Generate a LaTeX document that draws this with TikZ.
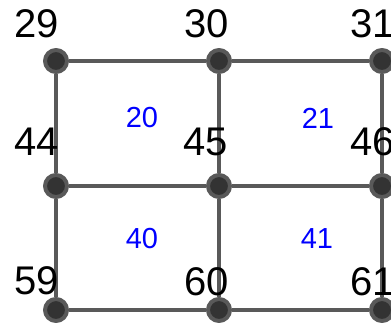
\documentclass[tikz,border=0pt]{standalone}
\usepackage{fontspec}
\setmainfont{Liberation Sans}
\usetikzlibrary{positioning}
\definecolor{gridLine}{HTML}{595959}
\definecolor{gridDot}{HTML}{333333}
\definecolor{gridBlue}{HTML}{0000FF}
\begin{document}
\begin{tikzpicture}[x=1pt,y=-1pt,line join=round]
\useasboundingbox (0,0) rectangle (391,322);
\clip (0,0) rectangle (391,322);
\path[fill=white] (0,0) rectangle (391,322);
\tikzset{vertex/.style={circle,draw=gridLine,fill=gridDot,line width=4pt,minimum size=22pt,inner sep=0pt},edge/.style={draw=gridLine,line width=4.5pt},vlabel/.style={font=\fontsize{40}{40}\selectfont,text=black,inner sep=0pt},cell/.style={font=\fontsize{29}{29}\selectfont,text=gridBlue,inner sep=0pt}}
% grid points
\foreach \n/\x/\y in {29/56/61,30/219/61,31/382/61,44/56/186,45/219/186,46/382/186,59/56/310,60/219/310,61/382/310}
  \node[vertex] (v\n) at (\x,\y) {};
\draw[edge] (v29) -- (v30) -- (v31); \draw[edge] (v44) -- (v45) -- (v46); \draw[edge] (v59) -- (v60) -- (v61);
\draw[edge] (v29) -- (v44) -- (v59); \draw[edge] (v30) -- (v45) -- (v60); \draw[edge] (v31) -- (v46) -- (v61);
% point numbers
\foreach \n/\x/\y in {29/37/24,30/207/24,31/373/24,44/37/142,45/206/142,46/373/142,59/37/281,60/207/282,61/373/282}
  \node[vlabel] (l\n) at (\x,\y) {\n};
% cell numbers
\node[cell] (c20) at (142,118) {20}; \node[cell] (c21) at (318,118) {21};
\node[cell] (c40) at (142,239) {40}; \node[cell] (c41) at (317,239) {41};
\end{tikzpicture}
\end{document}
